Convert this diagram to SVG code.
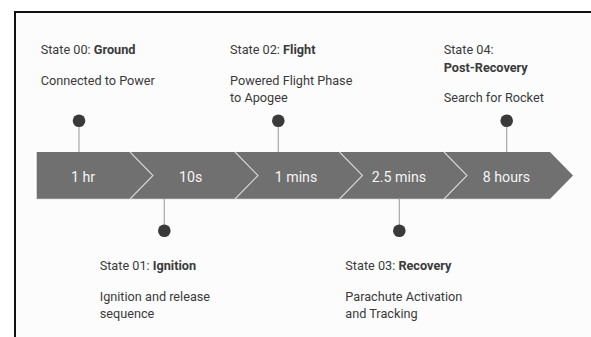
<svg xmlns="http://www.w3.org/2000/svg" width="591" height="337" viewBox="0 0 591 337">
<style>
.t{font-family:Roboto,"Liberation Sans",sans-serif;font-size:12.7px;fill:#3a3a3a}
.b{font-weight:bold}
.lbl{font-family:Roboto,"Liberation Sans",sans-serif;font-size:14.2px;fill:#f4f4f4;text-anchor:middle}
.pin{stroke:#a8a8a8;stroke-width:1.2;fill:none}
.dot{fill:#3a3a3a}
.sep{stroke:#d6d6d6;stroke-width:1.1;fill:none}
</style>
<rect x="0" y="0" width="591" height="337" fill="#ffffff"/>
<rect x="15" y="12" width="590" height="340" fill="#fcfcfc" stroke="#111" stroke-width="2"/>
<g id="timeline">
<polygon points="36.7,152 550,152 573,175.5 550,199 36.7,199" fill="#707070"/>
<polyline class="sep" points="130,152 153,175.5 130,199"/>
<polyline class="sep" points="235,152 258,175.5 235,199"/>
<polyline class="sep" points="339.5,152 362.5,175.5 339.5,199"/>
<polyline class="sep" points="444,152 467,175.5 444,199"/>
<line x1="36.7" y1="199.2" x2="550" y2="199.2" stroke="#e4e4e4" stroke-width="0.8"/>
<text class="lbl" x="83" y="181.5">1 hr</text>
<text class="lbl" x="190.7" y="181.5">10s</text>
<text class="lbl" x="296" y="181.5">1 mins</text>
<text class="lbl" x="399" y="181.5">2.5 mins</text>
<text class="lbl" x="506.5" y="181.5">8 hours</text>
</g>
<g id="connectors">
<line class="pin" x1="79" y1="121" x2="79" y2="152"/>
<line class="pin" x1="164.3" y1="199" x2="164.3" y2="230"/>
<line class="pin" x1="278.3" y1="121" x2="278.3" y2="152"/>
<line class="pin" x1="399.3" y1="199" x2="399.3" y2="230"/>
<line class="pin" x1="506.7" y1="121" x2="506.7" y2="152"/>
</g>
<g id="state00">
<circle class="dot" cx="79" cy="120.7" r="6.3"/>
<text class="t" x="40.7" y="54">State 00: <tspan class="b">Ground</tspan></text>
<text class="t" x="40.7" y="85">Connected to Power</text>
</g>
<g id="state01">
<circle class="dot" cx="164.3" cy="230.7" r="6.3"/>
<text class="t" x="99.7" y="270">State 01: <tspan class="b">Ignition</tspan></text>
<text class="t" x="99.7" y="301">Ignition and release</text>
<text class="t" x="99.7" y="318">sequence</text>
</g>
<g id="state02">
<circle class="dot" cx="278.3" cy="120.7" r="6.3"/>
<text class="t" x="230" y="54">State 02: <tspan class="b">Flight</tspan></text>
<text class="t" x="230" y="85">Powered Flight Phase</text>
<text class="t" x="230" y="102">to Apogee</text>
</g>
<g id="state03">
<circle class="dot" cx="399.3" cy="230.7" r="6.3"/>
<text class="t" x="345.3" y="270">State 03: <tspan class="b">Recovery</tspan></text>
<text class="t" x="345.3" y="301">Parachute Activation</text>
<text class="t" x="345.3" y="318">and Tracking</text>
</g>
<g id="state04">
<circle class="dot" cx="506.7" cy="120.7" r="6.3"/>
<text class="t" x="443.7" y="54">State 04:</text>
<text class="t b" x="443.7" y="71.5">Post-Recovery</text>
<text class="t" x="443.7" y="102">Search for Rocket</text>
</g>
</svg>
